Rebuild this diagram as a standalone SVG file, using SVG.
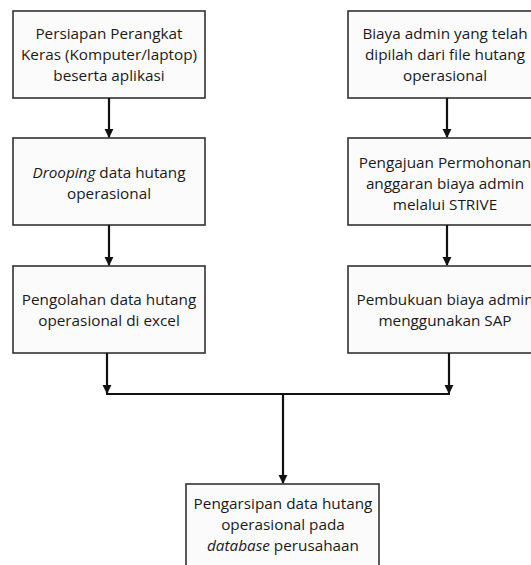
<svg xmlns="http://www.w3.org/2000/svg" width="531" height="565" viewBox="0 0 531 565">
<defs>
<style>
.box{fill:#fbfbfb;stroke:#333;stroke-width:1.6}
.t{font-family:"Open Sans","Noto Sans",sans-serif;font-size:15.3px;fill:#1a1a1a;text-anchor:middle}
.c{stroke:#111;stroke-width:2.2;fill:none}
</style>
<marker id="ah" viewBox="0 0 10 10" refX="9" refY="5" markerWidth="4.2" markerHeight="4.2" orient="auto" markerUnits="strokeWidth">
<path d="M0,0 L10,5 L0,10 z" fill="#111"/>
</marker>
</defs>
<rect width="531" height="565" fill="#fff"/>
<g id="n1"><rect class="box" x="13" y="11" width="192" height="87"/>
<text class="t" x="109" y="39">Persiapan Perangkat</text>
<text class="t" x="109" y="60">Keras (Komputer/laptop)</text>
<text class="t" x="109" y="81">beserta aplikasi</text></g>
<g id="n2"><rect class="box" x="13" y="138" width="192" height="87"/>
<text class="t" x="109" y="178"><tspan font-style="italic">Drooping</tspan> data hutang</text>
<text class="t" x="109" y="199">operasional</text></g>
<g id="n3"><rect class="box" x="13" y="266" width="192" height="87"/>
<text class="t" x="109" y="305">Pengolahan data hutang</text>
<text class="t" x="109" y="326">operasional di excel</text></g>
<g id="n4"><rect class="box" x="348" y="11" width="198" height="87"/>
<text class="t" x="445" y="39">Biaya admin yang telah</text>
<text class="t" x="445" y="60">dipilah dari file hutang</text>
<text class="t" x="445" y="81">operasional</text></g>
<g id="n5"><rect class="box" x="348" y="138" width="198" height="87"/>
<text class="t" x="445" y="168">Pengajuan Permohonan</text>
<text class="t" x="445" y="189">anggaran biaya admin</text>
<text class="t" x="445" y="210">melalui STRIVE</text></g>
<g id="n6"><rect class="box" x="348" y="266" width="198" height="87"/>
<text class="t" x="445" y="305">Pembukuan biaya admin</text>
<text class="t" x="445" y="326">menggunakan SAP</text></g>
<g id="n7"><rect class="box" x="186" y="484" width="193" height="90"/>
<text class="t" x="283" y="509">Pengarsipan data hutang</text>
<text class="t" x="283" y="530">operasional pada</text>
<text class="t" x="283" y="551"><tspan font-style="italic">database</tspan> perusahaan</text></g>
<g id="connectors">
<line class="c" x1="109" y1="98" x2="109" y2="137" marker-end="url(#ah)"/>
<line class="c" x1="109" y1="225" x2="109" y2="265" marker-end="url(#ah)"/>
<line class="c" x1="447" y1="98" x2="447" y2="137" marker-end="url(#ah)"/>
<line class="c" x1="447" y1="225" x2="447" y2="265" marker-end="url(#ah)"/>
<line class="c" x1="107" y1="353" x2="107" y2="393" marker-end="url(#ah)"/>
<line class="c" x1="449" y1="353" x2="449" y2="393" marker-end="url(#ah)"/>
<line class="c" x1="106" y1="394" x2="450" y2="394"/>
<line class="c" x1="283" y1="394" x2="283" y2="483" marker-end="url(#ah)"/>
</g>
</svg>
